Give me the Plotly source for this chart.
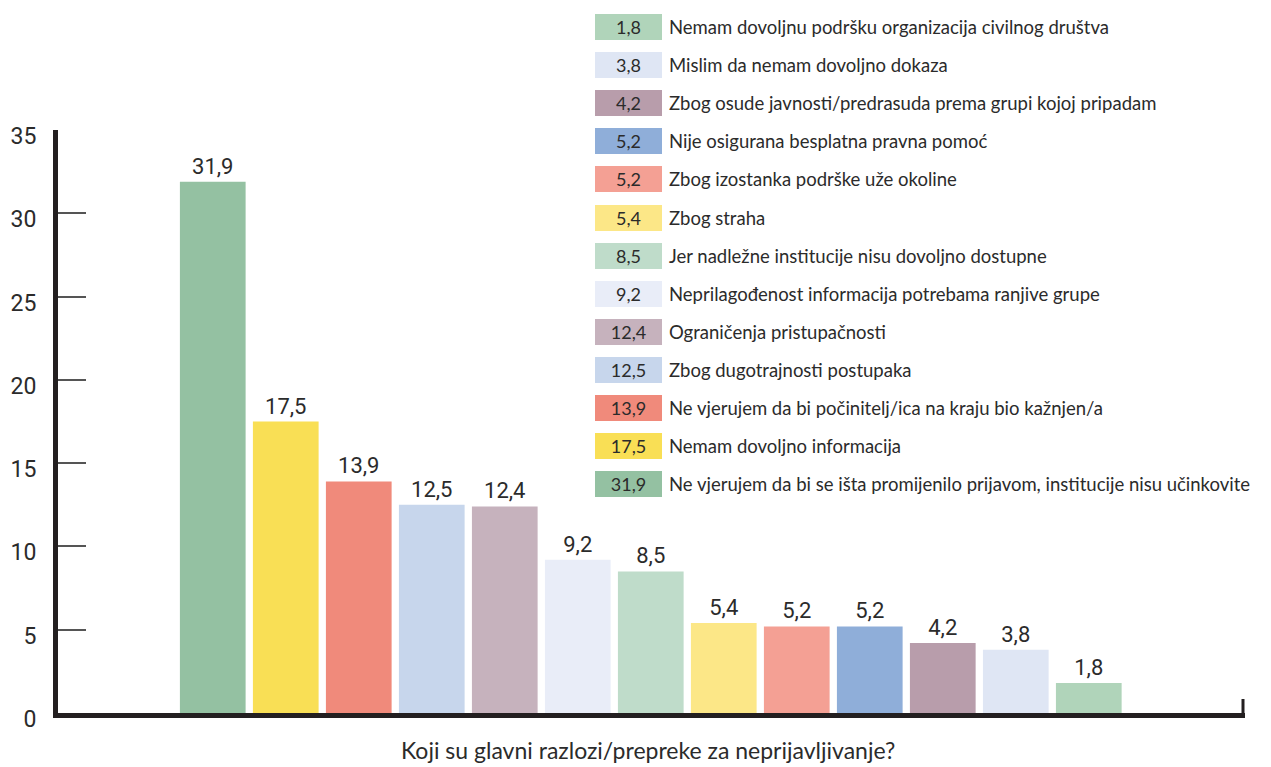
import plotly.graph_objects as go

categories = [
    "Ne vjerujem da bi se išta promijenilo prijavom, institucije nisu učinkovite",
    "Nemam dovoljno informacija",
    "Ne vjerujem da bi počinitelj/ica na kraju bio kažnjen/a",
    "Zbog dugotrajnosti postupaka",
    "Ograničenja pristupačnosti",
    "Neprilagođenost informacija potrebama ranjive grupe",
    "Jer nadležne institucije nisu dovoljno dostupne",
    "Zbog straha",
    "Zbog izostanka podrške uže okoline",
    "Nije osigurana besplatna pravna pomoć",
    "Zbog osude javnosti/predrasuda prema grupi kojoj pripadam",
    "Mislim da nemam dovoljno dokaza",
    "Nemam dovoljnu podršku organizacija civilnog društva",
]
values = [31.9, 17.5, 13.9, 12.5, 12.4, 9.2, 8.5, 5.4, 5.2, 5.2, 4.2, 3.8, 1.8]
colors = ["#94c1a2", "#f9df55", "#f08a7b", "#c7d6ec", "#c6b2bd", "#e9edf8",
          "#bfdcca", "#fce787", "#f4a094", "#8faed9", "#b89dab", "#dfe6f4", "#b0d4ba"]
y_ticks = [0, 5, 10, 15, 20, 25, 30, 35]
x_title = "Koji su glavni razlozi/prepreke za neprijavljivanje?"

labels = [f"{v:.1f}".replace(".", ",") for v in values]
xpos = list(range(len(values)))

W, H = 1271, 767
L, R, T, B = 58, 26, 130, 54
pw, ph = W - L - R, H - T - B

def px_x(x):
    return (x - L) / pw

def px_y(y):
    return (H - B - y) / ph

fig = go.Figure()
fig.add_trace(go.Bar(
    x=xpos, y=values, width=0.9,
    marker=dict(color=colors, line=dict(width=0)),
    text=labels, textposition="outside",
    textfont=dict(family="Roboto", size=22, color="#2b2b2b"),
    cliponaxis=False, showlegend=False, hoverinfo="skip",
))

annotations = []
# custom legend: ascending order from top
row0, step = 27, 38.1
for i, idx in enumerate(reversed(range(len(values)))):
    yc = row0 + i * step
    annotations.append(dict(
        xref="paper", yref="paper", x=px_x(595), y=px_y(yc),
        xanchor="left", yanchor="middle", text=labels[idx],
        showarrow=False, width=63, height=22, bgcolor=colors[idx],
        align="center", valign="middle", borderpad=2, borderwidth=0,
        font=dict(family="Lato", size=18, color="#2b2b2b"),
    ))
    annotations.append(dict(
        xref="paper", yref="paper", x=px_x(667), y=px_y(yc),
        xanchor="left", yanchor="middle", text=categories[idx],
        showarrow=False,
        font=dict(family="Lato", size=18.5, color="#2b2b2b"),
    ))

annotations.append(dict(
    xref="paper", yref="paper", x=px_x(648), y=px_y(750),
    xanchor="center", yanchor="middle", text=x_title, showarrow=False,
    font=dict(family="Lato", size=23, color="#2b2b2b"),
))

fig.update_layout(
    width=W, height=H,
    margin=dict(l=L, r=R, t=T, b=B),
    plot_bgcolor="white", paper_bgcolor="white",
    annotations=annotations,
    shapes=[dict(type="line", xref="paper", yref="paper",
                 x0=px_x(1243), x1=px_x(1243), y0=0, y1=px_y(699),
                 line=dict(color="#231f20", width=3))],
    xaxis=dict(range=[-2.12, 14.14], showticklabels=False, ticks="",
               showgrid=False, zeroline=False, showline=True,
               linecolor="#231f20", linewidth=5, fixedrange=True),
    yaxis=dict(range=[0, 35], tickvals=y_ticks, ticks="inside", ticklen=28,
               tickwidth=1.5, tickcolor="#555555", showgrid=False,
               zeroline=False, showline=True, linecolor="#231f20", linewidth=5,
               ticklabelstandoff=12, ticklabelshift=6,
               tickfont=dict(family="Roboto", size=23, color="#2b2b2b"),
               fixedrange=True),
)

fig.write_html("out.html", config={"displayModeBar": False},
               post_script="document.body.style.margin='0';document.body.style.overflow='hidden';")
